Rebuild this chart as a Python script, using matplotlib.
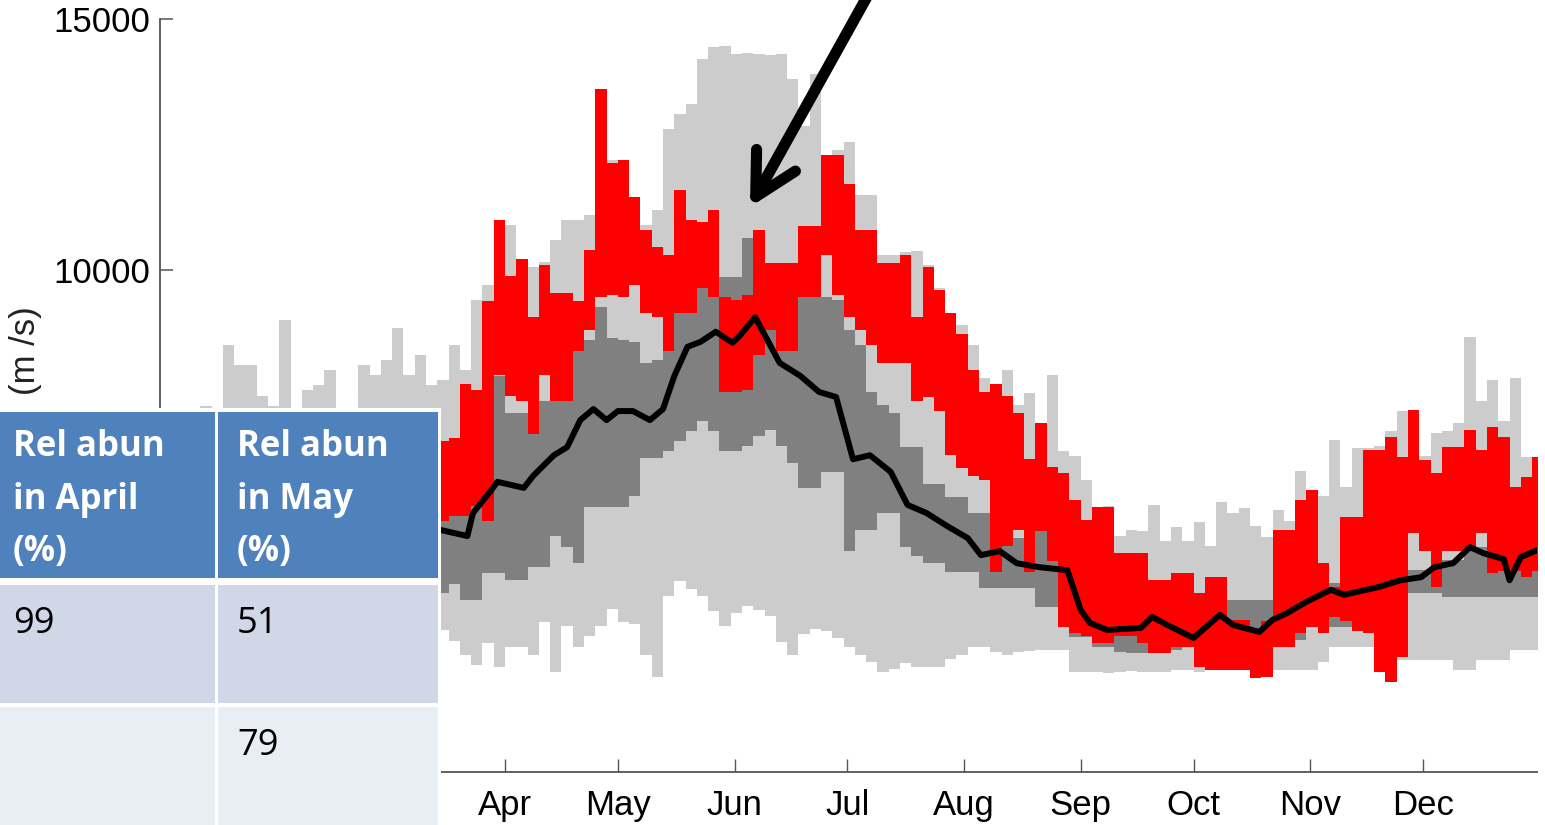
import numpy as np
import matplotlib
matplotlib.use('Agg')
import matplotlib.pyplot as plt
from matplotlib.patches import Rectangle

plt.rcParams['font.family'] = ['Liberation Sans', 'DejaVu Sans']

# ---------------- data ----------------
months = ['Apr', 'May', 'Jun', 'Jul', 'Aug', 'Sep', 'Oct', 'Nov', 'Dec']
month_start_day = [90, 120, 151, 181, 212, 243, 273, 304, 334]
yticks = [10000, 15000]   # lower ticks are hidden behind the table in the reference

band_days = np.arange(0, 366, 3)   # 3-day bins, day of year

light_max = [6400, 6500, 6600, 7300, 7250, 8500, 8100, 8100, 7500, 7300, 9000, 7000,
             7600, 7700, 8000, 6800, 7000, 8100, 7900, 8200, 8850, 7900, 8300, 7700,
             7800, 8500, 8000, 9400, 9700, 10800,
             10900, 10100, 10050, 10150, 10600, 11000, 11000, 11100, 13600, 12200,
             12200, 11400, 10900, 11200, 12800, 13100, 13300, 14200, 14450, 14470,
             14300, 14320, 14300, 14280, 14300, 13800, 12870, 13900, 12290, 12400,
             12550, 11500, 11490, 10300, 10300, 10350, 10380, 10100, 9640, 9140,
             8900, 8500, 7850, 7730, 8000, 7310, 7550, 6900, 7900, 6400,
             6300, 5810, 5280, 5300, 4700, 4820, 4800, 5320, 4600, 4880,
             4600, 4980, 4500, 5380, 5160, 5260, 4900, 4680, 5220, 5000,
             6000, 5160, 5500, 6610, 5680, 6450, 6450, 6500, 6800, 7200,
             6500, 6300, 6750, 6800, 6950, 8670, 7400, 7800, 7000, 7850,
             6270, 6270]

light_min = [2800, 2700, 2900, 2600, 2800, 2500, 2700, 2900, 2600, 2800, 2700, 2500,
             2900, 2600, 2800, 2700, 2900, 2600, 2800, 2500, 2700, 2900, 2600, 2800,
             2830, 2600, 2330, 2130, 2570, 2100,
             2490, 2490, 2330, 2990, 2000, 2900, 2500, 2700, 2900, 3250,
             2990, 2950, 2330, 1900, 3500, 3800, 3650, 3500, 3200, 2900,
             3170, 3300, 3230, 3100, 2590, 2330, 2750, 2850, 2800, 2670,
             2500, 2330, 2200, 2000, 2050, 2170, 2100, 2090, 2090, 2250,
             2330, 2490, 2490, 2400, 2330, 2400, 2410, 2430, 2430, 2430,
             2000, 2000, 2000, 1980, 2000, 2020, 2000, 1990, 2000, 2030,
             2030, 2000, 2030, 2030, 2050, 2030, 2030, 2000, 2030, 2030,
             2030, 2030, 2200, 2490, 2490, 2490, 2490, 2230, 2230, 2230,
             2230, 2230, 2230, 2230, 2030, 2030, 2230, 2230, 2230, 2430,
             2430, 2430]

dark_max = [5200, 5400, 5300, 5600, 5500, 5800, 5700, 5600, 5900, 5800, 6000, 5900,
            6100, 6000, 5900, 6200, 6100, 6000, 6300, 6200, 6400, 6300, 6100, 6200,
            5980, 5980, 6300, 6730, 7000, 7890,
            7150, 7150, 7650, 7400, 7650, 7900, 8400, 8600, 9260, 8650,
            8600, 8570, 8150, 8200, 8400, 10300, 10300, 10500, 10500, 9860,
            9860, 10640, 10400, 9960, 9960, 9960, 9640, 9640, 9460, 9400,
            8800, 8500, 7570, 7310, 7150, 6470, 6470, 5740, 5740, 5480,
            5480, 5160, 5160, 4900, 4660, 4660, 4660, 4820, 4620, 4620,
            3900, 3630, 3690, 3690, 3230, 3230, 3230, 3570, 3570, 3570,
            3430, 3430, 3430, 3430, 3430, 3430, 3430, 3430, 3630, 3630,
            3630, 3630, 3760, 3760, 3880, 3880, 3880, 3880, 3880, 3880,
            4020, 4020, 4020, 4220, 4220, 5480, 4480, 4480, 4480, 5020,
            5020, 5020]

dark_min = [3500, 3400, 3600, 3300, 3500, 3400, 3600, 3500, 3300, 3600, 3400, 3500,
            3700, 3400, 3600, 3500, 3300, 3600, 3500, 3400, 3600, 3500, 3700, 3500,
            3570, 3740, 3430, 3430, 3960, 3960,
            3820, 3820, 4080, 4080, 4700, 4480, 4160, 5280, 5280, 5280,
            5280, 5500, 6250, 6250, 6400, 6600, 6800, 7000, 6800, 6400,
            6400, 6500, 6700, 6810, 6500, 6150, 5660, 5660, 5980, 5980,
            4400, 4820, 4820, 5160, 5160, 4480, 4300, 4160, 4160, 3980,
            3980, 3980, 3670, 3670, 3670, 3670, 3670, 3290, 3290, 3290,
            2690, 2690, 2490, 2490, 2400, 2370, 2370, 2370, 2430, 2430,
            2690, 2690, 2690, 2690, 2630, 2630, 2630, 2630, 2630, 2630,
            2630, 2890, 2890, 2890, 2890, 2890, 2890, 2890, 2890, 2890,
            3570, 3570, 3570, 3490, 3490, 3490, 3490, 3490, 3490, 3490,
            3490, 3490]

red_days = np.arange(72, 366, 3)
red_max = [6600, 6650, 7730, 7600, 9380, 11000,
           9880, 10220, 9060, 10100, 9540, 9540, 9380, 10400, 13600, 12130,
           12200, 11450, 10800, 10450, 10300, 11600, 11000, 10950, 11200, 9460,
           9400, 9500, 10800, 10140, 10140, 10140, 10880, 10880, 12290, 12290,
           11710, 10800, 10800, 10140, 10140, 10300, 9060, 10060, 9600, 9140,
           8730, 8000, 7570, 7730, 7500, 7150, 6230, 6950, 6080, 5960,
           5420, 5020, 5280, 5280, 4360, 4360, 4360, 3820, 3820, 3960,
           3960, 3570, 3880, 3880, 3030, 3030, 2770, 3000, 4820, 4820,
           5420, 5620, 4160, 3690, 5080, 5080, 6410, 6410, 6670, 6270,
           7210, 6210, 5960, 6470, 6470, 6810, 6410, 6870, 6670, 5680,
           5880, 6270]
red_min = [5000, 5100, 5100, 5300, 5000, 7900,
           7500, 7400, 6730, 7900, 7390, 7400, 8390, 8800, 9460, 9500,
           9460, 9700, 9140, 9060, 8390, 9140, 9140, 9640, 9460, 7570,
           7570, 7600, 8310, 8800, 8390, 8390, 9460, 9460, 10300, 9500,
           9060, 8800, 8500, 8150, 8150, 8150, 7390, 7470, 7200, 6310,
           6050, 5900, 5820, 3980, 4500, 4820, 3980, 4800, 4200, 2890,
           2770, 2700, 2570, 2570, 2700, 2700, 2570, 2370, 2370, 2490,
           2490, 2090, 2030, 2030, 2030, 2030, 1870, 1900, 2490, 2490,
           2770, 2890, 2770, 3090, 3000, 2800, 2770, 2000, 1790, 2290,
           4760, 4400, 3690, 4400, 4400, 4420, 4760, 3960, 4000, 4000,
           3880, 4000]

median_days = [73, 80, 81.5, 86, 88, 95, 97.5, 103, 106.5, 110, 113.5, 117, 120, 124,
               128.5, 132, 135, 138.5, 142, 146, 150.5, 152.5, 156.5, 163, 168.5,
               173.5, 178, 182.5, 187, 192.5, 197, 202, 207.5, 213, 216.5, 221.5,
               226, 232, 239.5, 243, 245.5, 250, 259, 262, 266, 273, 280, 283.5,
               290.5, 294, 298, 303, 309.5, 313, 322.5, 328, 333.5, 337, 342,
               346.5, 350, 355.5, 357, 360, 364.3]
median_vals = [4820, 4700, 5160, 5580, 5780, 5660, 5900, 6310, 6470, 7010, 7230, 7010,
               7190, 7190, 7010, 7230, 7890, 8470, 8570, 8770, 8550, 8700, 9060, 8150,
               7890, 7570, 7470, 6230, 6310, 5980, 5320, 5160, 4900, 4660, 4320, 4400,
               4160, 4080, 4020, 3230, 2970, 2830, 2870, 3090, 2930, 2670, 3130, 2930,
               2790, 3030, 3170, 3390, 3630, 3530, 3690, 3820, 3880, 4080, 4160, 4480,
               4360, 4240, 3820, 4280, 4420]

table_header = ['Rel abun\nin April\n(%)', 'Rel abun\nin May\n(%)']
table_rows = [['99', '51'], ['', '79']]
ylabel = '(m /s)'

# ---------------- figure ----------------
W, H = 1545, 825
fig = plt.figure(figsize=(W / 100, H / 100), dpi=100)
ax = fig.add_axes([160 / W, 53 / H, 1377 / W, 753 / H])


def ext(v):
    return np.append(np.asarray(v, dtype=float), v[-1])


xb = np.append(band_days, band_days[-1] + 3)
xr = np.append(red_days, red_days[-1] + 3)
ax.fill_between(xb, ext(light_min), ext(light_max), step='post', color='#cccccc', lw=0, zorder=1)
ax.fill_between(xb, ext(dark_min), ext(dark_max), step='post', color='#808080', lw=0, zorder=2)
ax.fill_between(xr, ext(red_min), ext(red_max), step='post', color='#ff0000', lw=0, zorder=3)
ax.plot(median_days, median_vals, color='black', lw=4.3, zorder=4,
        solid_joinstyle='round', solid_capstyle='round')

ax.set_xlim(-1.7, 364.3)
ax.set_ylim(0, 15000)
ax.set_xticks(month_start_day)
ax.set_xticklabels(months)
ax.set_yticks(yticks)
ax.set_yticklabels([str(v) for v in yticks])
for s in ['top', 'right']:
    ax.spines[s].set_visible(False)
for s in ['left', 'bottom']:
    ax.spines[s].set_color('#555555')
    ax.spines[s].set_linewidth(1.3)
ax.tick_params(axis='y', direction='in', length=9, width=1.1, color='#555555',
               labelsize=25, pad=7)
ax.tick_params(axis='x', direction='in', length=9.5, width=1.0, color='#555555',
               labelsize=25, pad=12)
ax.patch.set_alpha(0)

fig.text(26 / W, 1 - 306 / H, ylabel, rotation=90, va='top', ha='center',
         fontsize=25, color='#222222', zorder=3)

# arrow
ax.annotate('', xy=(750, H - 207), xycoords='figure pixels',
            xytext=(868, H + 5), textcoords='figure pixels',
            arrowprops=dict(arrowstyle='->,head_length=30,head_width=16',
                            mutation_scale=1, lw=8, color='black',
                            shrinkA=0, shrinkB=0),
            annotation_clip=False, zorder=6)

# ---------------- table (figure pixel coords, y from top) ----------------
def rect(x0, y0, x1, y1, color, z):
    fig.patches.append(Rectangle((x0 / W, 1 - y1 / H), (x1 - x0) / W, (y1 - y0) / H,
                                 transform=fig.transFigure, facecolor=color,
                                 edgecolor='none', zorder=z))


rect(0, 408, 441, H, 'white', 10)
col_x = [(0, 215), (218, 438)]
row_y = [(412, 578), (585, 703), (707, H)]
row_col = ['#4F81BD', '#D0D8E8', '#E9EDF4']
for r, (y0, y1) in enumerate(row_y):
    for c, (x0, x1) in enumerate(col_x):
        rect(x0, y0, x1, y1, row_col[r], 11)

text_x = [13, 237]
for c in range(2):
    # va='baseline' on multi-line text anchors the last line's baseline
    fig.text(text_x[c] / W, 1 - 561 / H, table_header[c], color='white',
             fontsize=25, fontweight='bold', family='Open Sans',
             va='baseline', ha='left', linespacing=1.61, zorder=12)
body_base = [633, 755]
for r, row in enumerate(table_rows):
    for c, val in enumerate(row):
        if val:
            fig.text(text_x[c] / W, 1 - body_base[r] / H, val, color='black',
                     fontsize=26, family='Open Sans', va='baseline', ha='left', zorder=12)

fig.savefig('out.png', dpi=100)
